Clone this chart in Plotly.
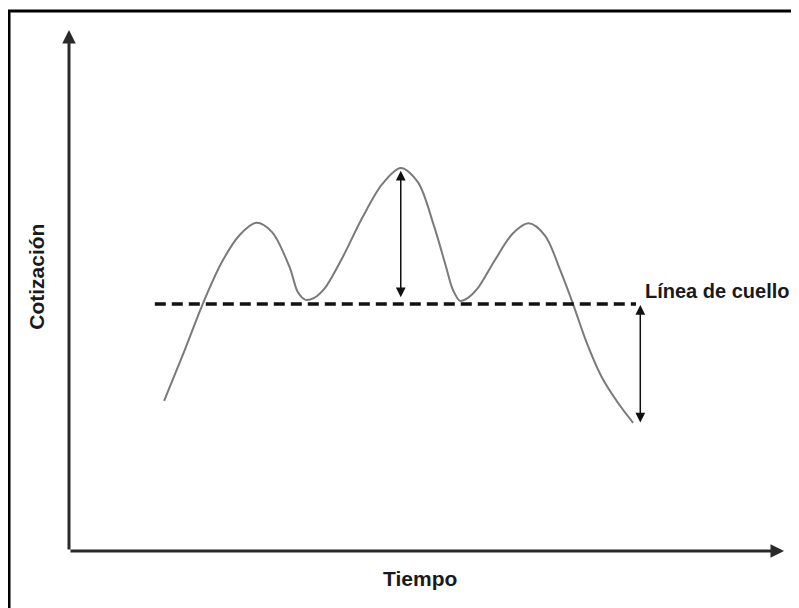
import plotly.graph_objects as go

# Price curve (head & shoulders), abstract units: time 0-100, price 0-100
time = [13.3, 16.2, 18.7, 21.4, 23.9, 26.2, 28.4, 30.9, 32.0, 33.1, 34.3, 35.7, 38.2, 41.0,
        43.8, 46.4, 48.8, 51.0, 52.7, 53.7, 54.7, 55.8, 57.2, 59.6, 62.1, 64.3, 66.6, 68.7,
        70.5, 72.4, 74.5, 76.8, 78.9]
price = [28.8, 38.6, 47.4, 55.5, 60.7, 63.0, 61.2, 54.3, 49.7, 48.2, 48.6, 50.3, 56.2, 63.9,
         70.4, 73.5, 70.8, 62.6, 54.7, 50.1, 48.0, 48.6, 50.5, 55.9, 61.0, 62.9, 60.5, 53.9,
         47.4, 40.0, 33.4, 28.4, 24.6]

neck_level = 47.4
neck_x = [12.0, 79.3]

head_arrow_x = 46.4
head_arrow_y = [73.0, 48.4]
target_arrow_x = 79.9
target_arrow_y = [47.2, 24.4]

x_label = "Tiempo"
y_label = "Cotización"
neck_label = "Línea de cuello"

FONT = "Liberation Sans"
TXT = "#1a1a1a"

fig = go.Figure()
fig.add_trace(go.Scatter(x=time, y=price, mode="lines",
                         line=dict(color="#7a7a7a", width=2, shape="spline", smoothing=0.9),
                         hoverinfo="skip", showlegend=False))
fig.add_trace(go.Scatter(x=neck_x, y=[neck_level, neck_level], mode="lines",
                         line=dict(color="#111111", width=3.5, dash="11px,6px"),
                         hoverinfo="skip", showlegend=False))

annotations = []
# axes with arrows
annotations.append(dict(x=0, y=100, ax=0, ay=0, xref="x", yref="y", axref="x", ayref="y",
                        text="", showarrow=True, arrowhead=2, arrowsize=0.9, arrowwidth=3,
                        arrowcolor="#2a2a2a"))
annotations.append(dict(x=100, y=0, ax=0, ay=0, xref="x", yref="y", axref="x", ayref="y",
                        text="", showarrow=True, arrowhead=2, arrowsize=0.9, arrowwidth=3,
                        arrowcolor="#2a2a2a"))
# measurement arrows
annotations.append(dict(x=head_arrow_x, y=head_arrow_y[0], ax=head_arrow_x, ay=head_arrow_y[1],
                        xref="x", yref="y", axref="x", ayref="y", text="", showarrow=True,
                        arrowhead=2, arrowside="end+start", arrowsize=1.3, arrowwidth=1.5,
                        arrowcolor="#111111"))
annotations.append(dict(x=target_arrow_x, y=target_arrow_y[0], ax=target_arrow_x, ay=target_arrow_y[1],
                        xref="x", yref="y", axref="x", ayref="y", text="", showarrow=True,
                        arrowhead=2, arrowside="end+start", arrowsize=1.3, arrowwidth=1.5,
                        arrowcolor="#111111"))
# labels
lab_font = dict(family=FONT, size=21, color=TXT, weight="bold")
annotations.append(dict(x=0.803, y=0.50, xref="paper", yref="paper", text=neck_label, showarrow=False,
                        xanchor="left", yanchor="middle", font=dict(family=FONT, size=20, color=TXT, weight="bold")))
annotations.append(dict(x=0.491, y=-0.052, xref="paper", yref="paper", text=x_label, showarrow=False,
                        xanchor="center", yanchor="middle", font=lab_font))
annotations.append(dict(x=-0.045, y=0.526, xref="paper", yref="paper", text=y_label, showarrow=False,
                        textangle=-90, xanchor="center", yanchor="middle", font=lab_font))

fig.update_layout(
    width=783, height=600,
    margin=dict(l=61, r=7, t=22, b=57),
    paper_bgcolor="white", plot_bgcolor="white",
    xaxis=dict(range=[0, 100], visible=False, fixedrange=True),
    yaxis=dict(range=[0, 100], visible=False, fixedrange=True),
    annotations=annotations,
    shapes=[dict(type="rect", xref="paper", yref="paper", x0=-0.0839, x1=1.1, y0=-0.3, y1=1.0365,
                 line=dict(color="black", width=3), fillcolor="rgba(0,0,0,0)", layer="below")],
    font=dict(family=FONT, color=TXT),
)

fig.write_html("out.html")
